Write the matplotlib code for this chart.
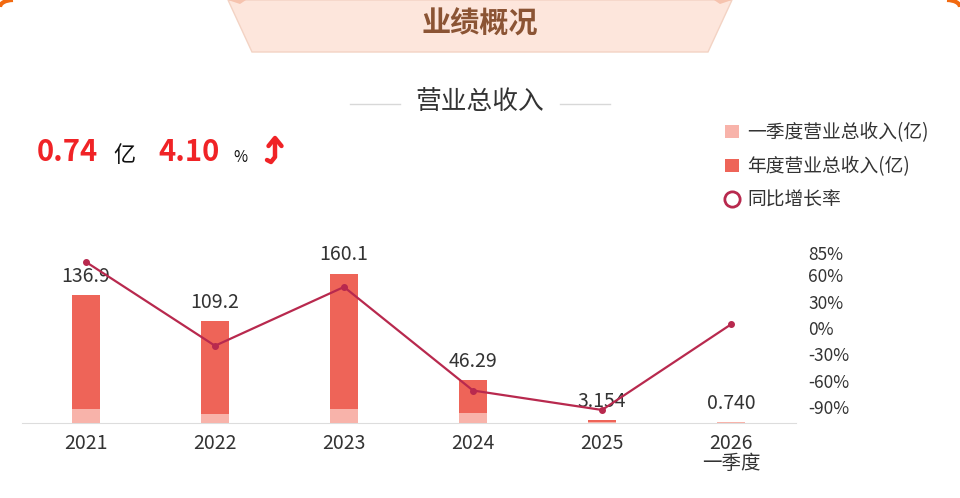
import matplotlib
matplotlib.use("Agg")
import matplotlib.pyplot as plt
from matplotlib.patches import Polygon, Patch, Arc
from matplotlib.lines import Line2D
import numpy as np

plt.rcParams['font.family'] = ['Noto Sans CJK SC', 'DejaVu Sans']

# data
years = ['2021', '2022', '2023', '2024', '2025', '2026\n一季度']
annual_rev = [136.9, 109.2, 160.1, 46.29, 3.154, 0.740]
q1_rev = [15.0, 10.0, 15.2, 10.5, 0.71, 0.740]
labels = ['136.9', '109.2', '160.1', '46.29', '3.154', '0.740']
yoy = [75.0, -20.23, 46.61, -71.09, -93.19, 4.10]
yoy_ticks = [85, 60, 30, 0, -30, -60, -90]

c_annual = '#EE6458'
c_q1 = '#F8B3AA'
c_line = '#B8294E'
c_text = '#333333'
c_red = '#F02326'

fig = plt.figure(figsize=(9.6, 4.98), dpi=100)

# background / decorations in pixel coords (y flipped)
bg = fig.add_axes([0, 0, 1, 1], zorder=0)
bg.set_xlim(0, 960)
bg.set_ylim(498, 0)
bg.axis('off')

# header tab
bg.add_patch(Polygon([[228, 0], [732, 0], [708, 52], [252, 52]], closed=True,
                     facecolor='#FDE6DC', edgecolor='#F3D3C4', lw=1))
bg.add_patch(Polygon([[228, 0], [246, 0], [240, 4]], closed=True, facecolor='#F6C3AE', lw=0))
bg.add_patch(Polygon([[714, 0], [732, 0], [720, 4]], closed=True, facecolor='#F6C3AE', lw=0))
bg.text(480, 24, '业绩概况', ha='center', va='center', fontsize=21, fontweight='bold', color='#8B5434')

# orange corners
bg.add_patch(Arc((13, 7), 26, 14, theta1=180, theta2=270, color='#F26A10', lw=3))
bg.add_patch(Arc((947, 7), 26, 14, theta1=270, theta2=360, color='#F26A10', lw=3))

# subtitle
bg.text(480, 102, '营业总收入', ha='center', va='center', fontsize=18.5, color=c_text)
bg.plot([350, 400], [104, 104], color='#D8D8D8', lw=1)
bg.plot([560, 610], [104, 104], color='#D8D8D8', lw=1)

# headline numbers
bg.text(37, 152, '0.74', ha='left', va='center', fontsize=21, fontweight='bold', color=c_red)
bg.text(113, 155, '亿', ha='left', va='center', fontsize=16, color='#111111')
bg.text(158, 152, '4.10', ha='left', va='center', fontsize=21, fontweight='bold', color=c_red)
bg.text(233, 157, '%', ha='left', va='center', fontsize=11, color='#111111')
# hooked up arrow
bg.plot([267, 271, 275, 275], [160, 162, 157, 139], color=c_red, lw=3.2,
        solid_capstyle='round', solid_joinstyle='round')
bg.plot([268.5, 275, 281.5], [146, 138, 146], color=c_red, lw=3.2,
        solid_capstyle='round', solid_joinstyle='round')

# main chart
ax = fig.add_axes([21.5 / 960, 75 / 498, 774 / 960, 178 / 498], zorder=1)
ax.patch.set_alpha(0)
x = np.arange(len(years))
ax.bar(x, annual_rev, width=0.21, color=c_annual, zorder=2)
ax.bar(x, q1_rev, width=0.21, color=c_q1, zorder=3)
for xi, v, lab in zip(x, annual_rev, labels):
    ax.annotate(lab, (xi, v), xytext=(0, 6), textcoords='offset points', ha='center', va='bottom',
                fontsize=14, color=c_text)
ax.set_xlim(-0.5, 5.5)
ax.set_ylim(0, 191)
ax.set_yticks([])
ax.set_xticks(x)
ax.set_xticklabels(years, fontsize=14, color=c_text, linespacing=0.95)
ax.tick_params(axis='x', length=0, pad=7)
for s in ['top', 'right', 'left']:
    ax.spines[s].set_visible(False)
ax.spines['bottom'].set_color('#DDDDDD')

ax2 = ax.twinx()
ax2.plot(x, yoy, color=c_line, lw=1.6, marker='o', markersize=4, zorder=4)
ax2.set_ylim(-108, 94.3)
ax2.set_yticks(yoy_ticks)
ax2.set_yticklabels([f'{t}%' for t in yoy_ticks], fontsize=12.5, color=c_text)
ax2.tick_params(axis='y', length=0, pad=9)
for s in ['top', 'right', 'left', 'bottom']:
    ax2.spines[s].set_visible(False)

handles = [Patch(facecolor=c_q1, edgecolor='none'),
           Patch(facecolor=c_annual, edgecolor='none'),
           Line2D([], [], color='none', marker='o', markerfacecolor='white',
                  markeredgecolor=c_line, markeredgewidth=2, markersize=11)]
fig.legend(handles, ['一季度营业总收入(亿)', '年度营业总收入(亿)', '同比增长率'],
           loc='upper left', bbox_to_anchor=(716 / 960, 1 - 113 / 498), frameon=False,
           fontsize=13.5, handlelength=0.7, handleheight=0.7, handletextpad=0.45,
           labelspacing=0.68, borderpad=0, labelcolor=c_text)

fig.savefig('out.png', dpi=100)
